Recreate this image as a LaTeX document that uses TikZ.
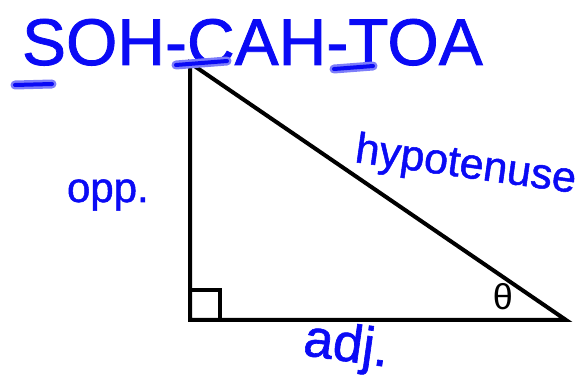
\documentclass[tikz,border=0pt]{standalone}
\usepackage{fontspec}
\newfontfamily\hand[FakeBold=1.2]{Liberation Sans}
\newfontfamily\greekfont{Liberation Sans}
\definecolor{inkblue}{RGB}{10,10,245}
\definecolor{haloblue}{RGB}{125,125,250}
\newcommand{\inkwrite}[2]{\fontsize{#1}{#1}\selectfont\color{inkblue}\hand #2}
\tikzset{
  inknode/.style={inner sep=0pt, outer sep=0pt},
  tri/.style={line width=4pt, line join=miter, black},
  ul/.style={draw=inkblue, line width=4pt, line cap=round,
    preaction={draw=haloblue, line width=9pt, line cap=round}},
}
\begin{document}
\begin{tikzpicture}[x=1pt,y=-1pt]
\useasboundingbox[fill=white] (0,0) rectangle (587,379);
% triangle
\coordinate (A) at (190,63);
\coordinate (B) at (190,320);
\coordinate (C) at (566,320);
\draw[tri] (A) -- (B) -- (C) -- cycle;
\draw[line width=3.5pt] (190,290) rectangle (220,320);
\node[inknode, anchor=center] (theta) at (503,297) {\fontsize{36}{36}\selectfont\greekfont θ};
% title
\node[inknode, anchor=base west] (title) at (22,65) {\inkwrite{66}{SOH-CAH-TOA}};
\draw[ul] (15,85) -- (52,84);
\draw[ul] (176,65) -- (227,61);
\draw[ul] (334,69) -- (373,66);
% labels
\node[inknode, anchor=base west] (opp) at (67,202) {\inkwrite{42}{opp.}};
\node[inknode, anchor=base west, rotate=-8] (hyp) at (354,162) {\inkwrite{43}{hypotenuse}};
\node[inknode, anchor=base west, rotate=-8] (adj) at (302,355) {\inkwrite{53}{adj.}};
\end{tikzpicture}
\end{document}
